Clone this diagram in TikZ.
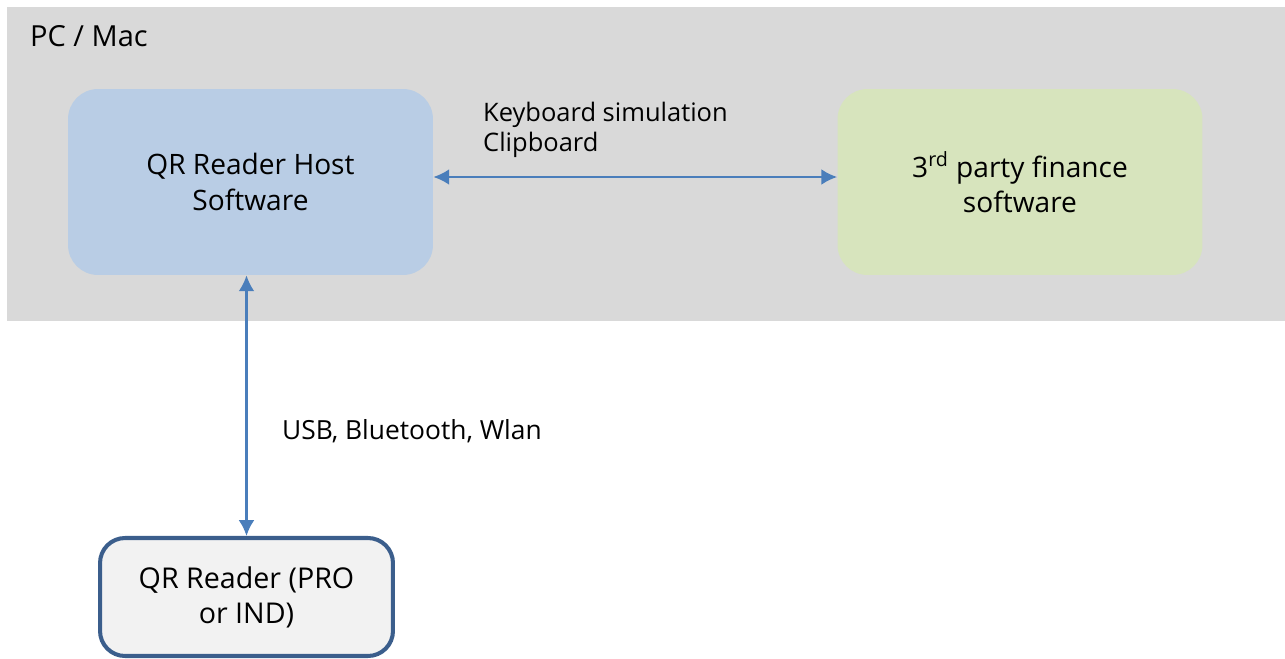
\documentclass[tikz,border=0pt]{standalone}
\usepackage{fontspec}
\setmainfont{Open Sans}
\usepackage{tikz}
\usetikzlibrary{arrows.meta}

\definecolor{pcgray}{HTML}{D9D9D9}
\definecolor{hostblue}{HTML}{B9CDE5}
\definecolor{fingreen}{HTML}{D7E4BD}
\definecolor{readerfill}{HTML}{F2F2F2}
\definecolor{readerline}{HTML}{3B5E8C}
\definecolor{linkblue}{HTML}{4A7EBB}

\begin{document}
\begin{tikzpicture}[x=0.02cm,y=-0.02cm,font=\fontsize{14.5}{17.5}\selectfont,
        box/.style={rounded corners=0.6cm,align=center,minimum width=7.3cm,minimum height=3.72cm,inner sep=0pt,
                    font=\fontsize{16}{20}\selectfont},
        link/.style={linkblue,line width=1.4pt,{Latex[length=9pt,width=9pt]}-{Latex[length=9pt,width=9pt]}}]
        \useasboundingbox (0,0) rectangle (1285,659);
        \fill[pcgray] (7,7) rectangle (1285,321);
        \node[anchor=west,font=\fontsize{16.5}{20}\selectfont] (pc) at (24,36) {PC / Mac};
        \node[box,fill=hostblue] (host) at (250.5,182) {QR Reader Host\\Software};
        \node[box,fill=fingreen] (fin) at (1020,182) {3\textsuperscript{rd} party finance\\software};
        \node[box,fill=readerfill,draw=readerline,line width=2.3pt,rounded corners=0.5cm,
              minimum width=5.86cm,minimum height=2.36cm,font=\fontsize{16.3}{20}\selectfont] (reader) at (246.5,597) {QR Reader (PRO\\or IND)};
        \draw[link] ([yshift=0.1cm]host.east) -- ([yshift=0.1cm]fin.west);
        \node[anchor=west,align=left] (kb) at (477,130) {Keyboard simulation\\Clipboard};
        \draw[link] (host.south -| reader.north) -- (reader.north);
        \node[anchor=west,font=\fontsize{15}{18}\selectfont] (usb) at (276,431) {USB, Bluetooth, Wlan};
\end{tikzpicture}
\end{document}
